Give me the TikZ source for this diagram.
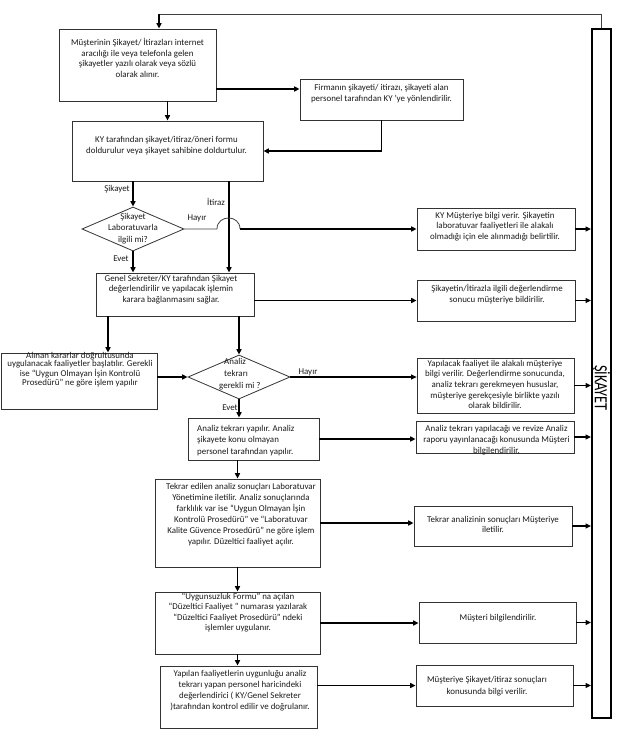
\documentclass[tikz,border=0pt]{standalone}
\usepackage{fontspec}
\setmainfont{Carlito}
\usetikzlibrary{arrows.meta,shapes.geometric}
\begin{document}
\begin{tikzpicture}[x=1pt,y=-1pt,
  box/.style={draw=black!80, line width=0.8pt, rectangle, inner sep=0pt},
  dia/.style={draw=black!80, line width=0.8pt, diamond, inner sep=0pt, minimum width=102pt, minimum height=44pt},
  txt/.style={align=center, inner sep=0pt, font=\fontsize{8.9pt}{10.5pt}\selectfont, text=black!90},
  lbl/.style={inner sep=0pt, font=\fontsize{8.9pt}{9pt}\selectfont, text=black!90},
  arr/.style={line width=1.4pt, -{Triangle[length=5.5pt,width=5pt]}},
  thinln/.style={line width=0.8pt, draw=black!75}
]
\useasboundingbox (0,0) rectangle (628,730);

% boxes
\node[box, minimum width=157pt, minimum height=72pt] (b1) at (137.5,65) {};
\node[box, minimum width=163pt, minimum height=41pt] (b2) at (381.5,99.5) {};
\node[box, minimum width=191pt, minimum height=60pt] (b3) at (167.5,151) {};
\node[dia] (d1) at (133,229) {};
\node[box, minimum width=158pt, minimum height=43pt] (b4) at (175,294.5) {};
\node[box, minimum width=158pt, minimum height=42pt] (b5) at (496,229) {};
\node[box, minimum width=158pt, minimum height=41pt] (b6) at (496,300.5) {};
\node[box, minimum width=156pt, minimum height=56pt] (b7) at (79,381) {};
\node[dia] (d2) at (239,377) {};
\node[box, minimum width=131pt, minimum height=42pt] (b8) at (253.5,439) {};
\node[box, minimum width=157pt, minimum height=55pt] (b9) at (495.5,385.5) {};
\node[box, minimum width=158pt, minimum height=32pt] (b10) at (495,437) {};
\node[box, minimum width=165pt, minimum height=88pt] (b11) at (237.5,523) {};
\node[box, minimum width=158pt, minimum height=40pt] (b12) at (493,526) {};
\node[box, minimum width=165pt, minimum height=62pt] (b13) at (237.5,623) {};
\node[box, minimum width=157pt, minimum height=41pt] (b14) at (497.5,622.5) {};
\node[box, minimum width=157pt, minimum height=62pt] (b15) at (238.5,697) {};
\node[box, minimum width=157pt, minimum height=41pt] (b16) at (494.5,685.5) {};
\node[box, line width=2pt, draw=black, minimum width=19pt, minimum height=689pt] (tall) at (601.5,373.5) {};

% texts
\node[txt] (t1) at (137.5,57.7) {Müşterinin Şikayet/ İtirazları internet\\ aracılığı ile veya telefonla gelen\\ şikayetler yazılı olarak veya sözlü\\ olarak alınır.};
\node[txt] (t2) at (381.5,93.5) {Firmanın şikayeti/ itirazı, şikayeti alan\\ personel tarafından KY ’ye yönlendirilir.};
\node[txt] (t3) at (166.5,145.5) {KY tarafından şikayet/itiraz/öneri formu\\ doldurulur veya şikayet sahibine doldurtulur.};
\node[txt, font=\fontsize{8.9pt}{11.5pt}\selectfont] (td1) at (133,228.5) {Şikayet\\ Laboratuvarla\\ ilgili mi?};
\node[txt] (t4) at (171,289.5) {Genel Sekreter/KY tarafından Şikayet\\ değerlendirilir ve yapılacak işlemin\\ karara bağlanmasını sağlar.};
\node[txt] (t5) at (495,226.5) {KY Müşteriye bilgi verir. Şikayetin\\ laboratuvar faaliyetleri ile alakalı\\ olmadığı için ele alınmadığı belirtilir.};
\node[txt] (t6) at (497,294) {Şikayetin/İtirazla ilgili değerlendirme\\ sonucu müşteriye bildirilir.};
\node[txt, font=\fontsize{8.9pt}{8.7pt}\selectfont] (t7) at (80,369.5) {Alınan kararlar doğrultusunda\\ uygulanacak faaliyetler başlatılır. Gerekli\\ ise “Uygun Olmayan İşin Kontrolü\\ Prosedürü” ne göre işlem yapılır};
\node[txt, align=left, anchor=west, font=\fontsize{8.9pt}{12pt}\selectfont] (td2) at (219,374.5) {\hspace*{5pt}Analiz\\ \hspace*{5pt}tekrarı\\ gerekli mi ?};
\node[txt, align=left, anchor=west, font=\fontsize{8.9pt}{11.5pt}\selectfont] (t8) at (197,440.5) {Analiz tekrarı yapılır. Analiz\\ şikayete konu olmayan\\ personel tarafından yapılır.};
\node[txt, font=\fontsize{8.9pt}{10.7pt}\selectfont] (t9) at (495,384.5) {Yapılacak faaliyet ile alakalı müşteriye\\ bilgi verilir. Değerlendirme sonucunda,\\ analiz tekrarı gerekmeyen hususlar,\\ müşteriye gerekçesiyle birlikte yazılı\\ olarak bildirilir.};
\node[txt, font=\fontsize{8.9pt}{11pt}\selectfont] (t10) at (496.5,440) {Analiz tekrarı yapılacağı ve revize Analiz\\ raporu yayınlanacağı konusunda Müşteri\\ bilgilendirilir.};
\node[txt, font=\fontsize{8.9pt}{11pt}\selectfont] (t11) at (241,514.5) {Tekrar edilen analiz sonuçları Laboratuvar\\ Yönetimine iletilir. Analiz sonuçlarında\\ farklılık var ise “Uygun Olmayan İşin\\ Kontrolü Prosedürü” ve “Laboratuvar\\ Kalite Güvence Prosedürü” ne göre işlem\\ yapılır. Düzeltici faaliyet açılır.};
\node[txt] (t12) at (493,524.5) {Tekrar analizinin sonuçları Müşteriye\\ iletilir.};
\node[txt, font=\fontsize{8.9pt}{10.3pt}\selectfont] (t13) at (238,612.5) {“Uygunsuzluk Formu” na açılan\\ “Düzeltici Faaliyet ” numarası yazılarak\\ “Düzeltici Faaliyet Prosedürü” ndeki\\ işlemler uygulanır.};
\node[txt] (t14) at (498,618) {Müşteri bilgilendirilir.};
\node[txt, font=\fontsize{8.9pt}{11pt}\selectfont] (t15) at (240,690.5) {Yapılan faaliyetlerin uygunluğu analiz\\ tekrarı yapan personel haricindeki\\ değerlendirici ( KY/Genel Sekreter\\ )tarafından kontrol edilir ve doğrulanır.};
\node[txt, font=\fontsize{8.9pt}{11.5pt}\selectfont] (t16) at (487,686) {Müşteriye Şikayet/itiraz sonuçları\\ konusunda bilgi verilir.};
\node[rotate=-90, inner sep=0pt, font=\fontsize{18.6pt}{20pt}\selectfont] (tsk) at (601,388) {\scalebox{0.77}[1]{ŞİKAYET}};

% labels
\node[lbl] (l1) at (117,189) {Şikayet};
\node[lbl] (l2) at (216,202) {İtiraz};
\node[lbl] (l3) at (197,218) {Hayır};
\node[lbl] (l4) at (121,259) {Evet};
\node[lbl] (l5) at (308,372) {Hayır};
\node[lbl] (l6) at (230,408) {Evet};

% helper coordinates
\coordinate (top) at (159,14);
\coordinate (itx) at (229,0);
\coordinate (jl) at (217,0);
\coordinate (jr) at (240,0);
\coordinate (cx1) at (108,0);

% connectors
\draw[thinln] (tall.north) |- (top);
\draw[arr] (top) -- (top |- b1.north);
\draw[arr] ([yshift=-24pt]b1.east) -- ([yshift=-24pt]b1.east -| b2.west);
\draw[arr] (b2.south) |- (b3.east);
\draw[arr] (b1.south -| b3.north) -- (b3.north);
\draw[arr] (b3.south -| d1.north) -- (d1.north);
\draw[arr] (b3.south -| itx) -- (b4.north -| itx);
\draw[thinln] (d1.east) -- (d1.east -| jl) .. controls ([yshift=14.7pt]d1.east -| jl) and ([yshift=14.7pt]d1.east -| jr) .. (d1.east -| jr);
\draw[arr] (d1.east -| jr) -- (b5.west);
\draw[arr] (d1.south) -- (d1.south |- b4.north);
\draw[arr] (b4.east |- b6.west) -- (b6.west);
\draw[arr] (b4.south -| cx1) -- (b7.north -| cx1);
\draw[arr] (b4.south -| d2.north) -- (d2.north);
\draw[arr] (b7.east |- d2.west) -- (d2.west);
\draw[arr, line width=1.1pt] (d2.east) -- (d2.east -| b9.west);
\draw[arr] (d2.south) -- (d2.south |- b8.north);
\draw[arr] (b8.east) -- (b8.east -| b10.west);
\draw[arr] (b8.south -| b11.north) -- (b11.north);
\draw[arr] (b11.east) -- (b11.east -| b12.west);
\draw[arr] (b11.south) -- (b13.north);
\draw[arr] (b13.east) -- (b13.east -| b14.west);
\draw[arr] (b13.south) -- (b13.south |- b15.north);
\draw[arr] (b15.east |- b16.west) -- (b16.west);
\draw[arr] (b5.east) -- (b5.east -| tall.west);
\draw[arr] (b6.east) -- (b6.east -| tall.west);
\draw[arr] (b9.east) -- (b9.east -| tall.west);
\draw[arr] (b10.east) -- (b10.east -| tall.west);
\draw[arr] (b12.east) -- (b12.east -| tall.west);
\draw[arr] (b14.east) -- (b14.east -| tall.west);
\draw[arr] (b16.east) -- (b16.east -| tall.west);
\end{tikzpicture}
\end{document}
